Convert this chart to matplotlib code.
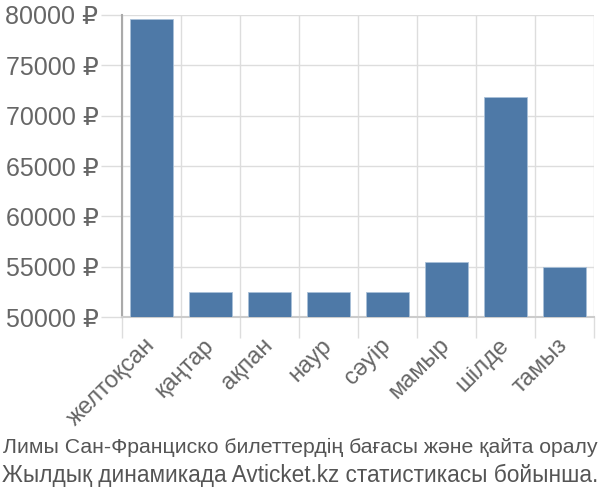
import matplotlib
matplotlib.use("Agg")
import matplotlib.pyplot as plt
from matplotlib import font_manager
import numpy as np

months = ["желтоқсан", "қаңтар", "ақпан", "наур", "сәуір", "мамыр", "шілде", "тамыз"]
prices = [79600, 52450, 52450, 52450, 52450, 55450, 71850, 55000]
yticks = [50000, 55000, 60000, 65000, 70000, 75000, 80000]
title_lines = ["Лимы Сан-Франциско билеттердің бағасы және қайта оралу",
               "Жылдық динамикада Avticket.kz статистикасы бойынша."]

names = {f.name for f in font_manager.fontManager.ttflist}
narrow = "Liberation Sans Narrow" if "Liberation Sans Narrow" in names else None
plt.rcParams['font.family'] = ['Liberation Sans', 'DejaVu Sans']

fig = plt.figure(figsize=(6, 5), dpi=100)
ax = fig.add_axes([122/600, 1-317/500, (594-122)/600, (317-15)/500])

x = np.arange(len(months))
ax.bar(x, prices, width=0.72, color="#4e79a7", edgecolor="#a9c0d8", linewidth=0.6, zorder=3)
ax.set_xlim(-0.5, len(months)-0.5)
ax.set_ylim(50000, 80000)

ax.set_yticks(yticks)
ax.set_yticklabels([f"{v} ₽" for v in yticks], fontsize=18, color="#666666")
ax.set_xticks(x)
ax.set_xticklabels(months, rotation=45, ha="right", va="center", rotation_mode="anchor",
                   fontsize=17, color="#666666")
ax.tick_params(axis="x", length=0, pad=18)
ax.tick_params(axis="y", length=15, color="#dddddd", width=1, pad=2)

ax.set_xticks(np.arange(len(months)+1) - 0.5, minor=True)
ax.tick_params(axis="x", which="minor", length=15, color="#dddddd", width=1)
ax.grid(True, axis="x", which="minor", color="#dddddd", linewidth=1, zorder=0)
ax.grid(True, axis="y", which="major", color="#dddddd", linewidth=1, zorder=0)

for s in ["top", "right"]:
    ax.spines[s].set_visible(False)
ax.spines["left"].set_color("#aaaaaa")
ax.spines["left"].set_linewidth(1.5)
ax.spines["bottom"].set_color("#cccccc")
ax.spines["bottom"].set_linewidth(1.5)

if narrow:
    tfam, s1, s2 = [narrow, 'DejaVu Sans'], 17, 18
else:
    tfam, s1, s2 = ['Liberation Sans', 'DejaVu Sans'], 15.3, 16.3
fig.text(0.5, 1-447/500, title_lines[0], ha="center", va="center", fontsize=s1, color="#555555", family=tfam)
fig.text(0.5, 1-475/500, title_lines[1], ha="center", va="center", fontsize=s2, color="#555555", family=tfam)

fig.savefig("out.png", dpi=100)
